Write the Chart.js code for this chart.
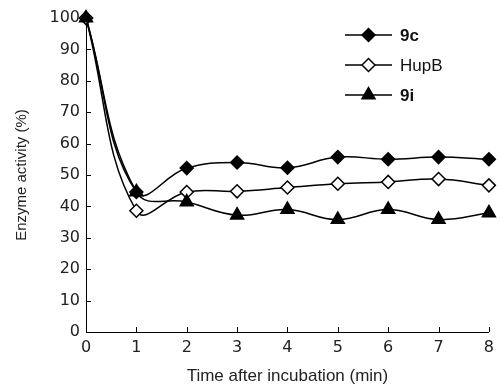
<!DOCTYPE html>
<html><head><meta charset="utf-8">
<script src="https://cdn.jsdelivr.net/npm/chart.js@4/dist/chart.umd.min.js"></script>
<style>html,body{margin:0;padding:0;background:#fff}#wrap{width:500px;height:387px}</style>
</head><body><div id="wrap"><canvas id="c" width="500" height="387"></canvas></div>
<script>
const times = [0, 1, 2, 3, 4, 5, 6, 7, 8];
const seriesNames = ['9c', 'HupB', '9i'];
const values9c   = [100, 44.6, 52.2, 54.0, 52.3, 55.7, 55.0, 55.7, 55.0];
const valuesHupB = [100, 38.6, 44.6, 44.8, 46.0, 47.2, 47.8, 48.7, 46.7];
const values9i   = [100, 44.6, 41.4, 37.2, 39.0, 35.8, 39.0, 35.8, 37.9];
const yTicks = [0, 10, 20, 30, 40, 50, 60, 70, 80, 90, 100];
const xTicks = [0, 1, 2, 3, 4, 5, 6, 7, 8];

const FONT = "'Liberation Sans', Arial, sans-serif";
const TICKFONT = "'DejaVu Sans', sans-serif";
const toPts = arr => arr.map((v, i) => ({x: times[i], y: v}));

const styles = [
  {pointStyle: 'rectRot', pointRadius: 6.5, bg: '#000', bold: true, order: 2},
  {pointStyle: 'rectRot', pointRadius: 6.5, bg: '#fff', bold: false, order: 1},
  {pointStyle: 'triangle', pointRadius: 7.5, bg: '#000', bold: true, order: 0}
];
const allVals = [values9c, valuesHupB, values9i];

const datasets = allVals.map((vals, i) => ({
  label: seriesNames[i],
  data: toPts(vals),
  order: styles[i].order,
  borderColor: '#000',
  borderWidth: 1.5,
  backgroundColor: styles[i].bg,
  pointBackgroundColor: styles[i].bg,
  pointBorderColor: '#000',
  pointBorderWidth: 1.5,
  pointStyle: styles[i].pointStyle,
  pointRadius: styles[i].pointRadius,
  tension: 0.42,
  fill: false,
  clip: false
}));

const inwardTicks = {
  id: 'inwardTicks',
  afterDatasetsDraw(chart) {
    const ctx = chart.ctx, xs = chart.scales.x, ys = chart.scales.y, a = chart.chartArea;
    ctx.save();
    ctx.strokeStyle = '#000';
    ctx.lineWidth = 1;
    xTicks.forEach(t => {
      if (t === xs.min) return;
      const px = Math.round(xs.getPixelForValue(t)) + 0.5;
      ctx.beginPath(); ctx.moveTo(px, a.bottom); ctx.lineTo(px, a.bottom - 5); ctx.stroke();
    });
    yTicks.forEach(t => {
      if (t === ys.min) return;
      const py = Math.round(ys.getPixelForValue(t)) + 0.5;
      ctx.beginPath(); ctx.moveTo(a.left, py); ctx.lineTo(a.left + 5, py); ctx.stroke();
    });
    ctx.restore();
  }
};

const customLegend = {
  id: 'customLegend',
  afterDraw(chart) {
    const ctx = chart.ctx;
    const x0 = 345, x1 = 392, tx = 400, y0 = 35, dy = 30;
    chart.data.datasets.forEach((ds, i) => {
      const y = y0 + i * dy;
      ctx.save();
      ctx.strokeStyle = '#000'; ctx.lineWidth = 1.5;
      ctx.beginPath(); ctx.moveTo(x0, y); ctx.lineTo(x1, y); ctx.stroke();
      ctx.fillStyle = ds.pointBackgroundColor; ctx.strokeStyle = '#000'; ctx.lineWidth = 1.5;
      Chart.helpers.drawPoint(ctx, {pointStyle: ds.pointStyle, radius: ds.pointRadius, borderWidth: 1.5}, (x0 + x1) / 2, y);
      ctx.fillStyle = '#111';
      ctx.font = (styles[i].bold ? 'bold ' : '') + '17px ' + FONT;
      ctx.textBaseline = 'middle';
      ctx.textAlign = 'left';
      ctx.fillText(ds.label, tx, y + 1);
      ctx.restore();
    });
  }
};

new Chart(document.getElementById('c'), {
  type: 'line',
  data: {datasets},
  plugins: [inwardTicks, customLegend],
  options: {
    responsive: false,
    animation: false,
    layout: {padding: {top: 18, right: 7, left: 0, bottom: 0}},
    plugins: {legend: {display: false}, tooltip: {enabled: false}},
    scales: {
      x: {
        type: 'linear', min: 0, max: 8,
        afterBuildTicks: s => { s.ticks = xTicks.map(v => ({value: v})); },
        afterFit: s => { s.height = 55; },
        grid: {display: false, drawTicks: false},
        border: {display: true, color: '#000', width: 1},
        ticks: {color: '#222', font: {family: TICKFONT, size: 16}, padding: 6, maxRotation: 0},
        title: {display: true, text: 'Time after incubation (min)', color: '#222', font: {family: FONT, size: 17}, padding: {top: 4, bottom: 0}}
      },
      y: {
        min: 0, max: 100,
        afterBuildTicks: s => { s.ticks = yTicks.map(v => ({value: v})); },
        afterFit: s => { s.width = 86; },
        grid: {display: false, drawTicks: false},
        border: {display: true, color: '#000', width: 1},
        ticks: {color: '#222', font: {family: TICKFONT, size: 16}, padding: 6},
        title: {display: true, text: 'Enzyme activity (%)', color: '#222', font: {family: FONT, size: 15}, padding: {top: 13, bottom: 4}}
      }
    }
  }
});
</script></body></html>
